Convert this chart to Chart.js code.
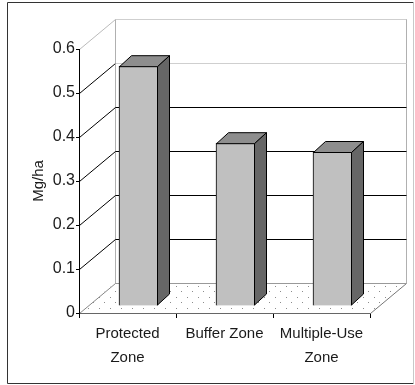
<!DOCTYPE html>
<html>
<head>
<meta charset="utf-8">
<title>Mg/ha by zone</title>
<script src="https://cdn.jsdelivr.net/npm/chart.js@4/dist/chart.umd.min.js"></script>
<style>
  html, body { margin: 0; padding: 0; background: #fff; }
  canvas { display: block; }
</style>
</head>
<body>
<canvas id="zones" width="415" height="385"></canvas>
<script>
const zones = [['Protected', 'Zone'], 'Buffer Zone', ['Multiple-Use', 'Zone']];
const mgPerHa = [0.545, 0.37, 0.35];
const yTicks = [0, 0.1, 0.2, 0.3, 0.4, 0.5, 0.6];

// oblique offsets for the fake 3d box
const WALL = { dx: 36, dy: -30 };
const BAR_FRONT = { dx: 11, dy: -7 };
const BAR_DEPTH = { dx: 12, dy: -11 };

function dotPattern(ctx) {
  const t = document.createElement('canvas');
  t.width = t.height = 11;
  const g = t.getContext('2d');
  g.fillStyle = '#8c8c8c';
  g.fillRect(0, 0, 1, 1);
  g.fillRect(5, 5, 1, 1);
  return ctx.createPattern(t, 'repeat');
}

function seg(c, x1, y1, x2, y2, color) {
  c.strokeStyle = color;
  c.beginPath();
  c.moveTo(x1, y1);
  c.lineTo(x2, y2);
  c.stroke();
}

const box3d = {
  id: 'box3d',
  beforeDraw(chart) {
    const { ctx: c, chartArea: a, scales: { y } } = chart;
    const L = a.left, R = a.right, B = a.bottom, T = a.top;
    c.save();
    c.fillStyle = '#fff';
    c.fillRect(0, 0, chart.width, chart.height);
    c.lineWidth = 1;

    // outer frame
    c.strokeStyle = '#333';
    c.beginPath();
    c.moveTo(413.5, 2.5); c.lineTo(7.5, 2.5); c.lineTo(7.5, 383.5); c.lineTo(413.5, 383.5);
    c.stroke();
    seg(c, 413.5, 2.5, 413.5, 383.5, '#c8c8c8');

    // floor
    c.beginPath();
    c.moveTo(L, B); c.lineTo(R, B);
    c.lineTo(R + WALL.dx, B + WALL.dy); c.lineTo(L + WALL.dx, B + WALL.dy);
    c.closePath();
    c.fillStyle = dotPattern(c);
    c.fill();
    seg(c, R + 0.5, B + 0.5, R + WALL.dx + 0.5, B + WALL.dy + 0.5, '#777');

    // back wall
    const bl = L + WALL.dx + 0.5, br = R + WALL.dx + 0.5;
    c.strokeStyle = '#b0b0b0';
    c.strokeRect(bl, T + WALL.dy + 0.5, br - bl, B - T);

    // gridlines on side and back walls
    yTicks.forEach((v, i) => {
      const py = Math.round(y.getPixelForValue(v)) + 0.5;
      const top = i === yTicks.length - 1;
      const side = i === 0 ? '#888' : top ? '#bbb' : '#000';
      const back = i === 0 ? '#999' : v >= 0.5 ? '#cfcfcf' : '#000';
      seg(c, L + 0.5, py, bl, py + WALL.dy, side);
      seg(c, bl, py + WALL.dy, br, py + WALL.dy, back);
    });
    c.restore();
  },
  beforeDatasetsDraw(chart) {
    chart.ctx.save();
    chart.ctx.translate(BAR_FRONT.dx, BAR_FRONT.dy);
  },
  afterDatasetsDraw(chart) {
    const c = chart.ctx;
    c.restore();
    c.save();
    c.lineWidth = 1;
    c.strokeStyle = '#000';
    chart.getDatasetMeta(0).data.forEach(bar => {
      const { x, y, base, width } = bar.getProps(['x', 'y', 'base', 'width'], true);
      const l = x - width / 2 + BAR_FRONT.dx + 0.5;
      const r = x + width / 2 + BAR_FRONT.dx - 0.5;
      const t = y + BAR_FRONT.dy + 0.5;
      const b = base + BAR_FRONT.dy - 0.5;
      const { dx, dy } = BAR_DEPTH;

      c.fillStyle = '#8e8e8e';
      c.beginPath();
      c.moveTo(l, t); c.lineTo(r, t); c.lineTo(r + dx, t + dy); c.lineTo(l + dx, t + dy);
      c.closePath();
      c.fill(); c.stroke();

      c.fillStyle = '#666';
      c.beginPath();
      c.moveTo(r, t); c.lineTo(r + dx, t + dy); c.lineTo(r + dx, b + dy); c.lineTo(r, b);
      c.closePath();
      c.fill(); c.stroke();
    });
    c.restore();
  }
};

const tickFont = { family: '"Liberation Sans", Arial, sans-serif', size: 15, lineHeight: 1.6 };

new Chart(document.getElementById('zones'), {
  type: 'bar',
  data: {
    labels: zones,
    datasets: [{
      data: mgPerHa,
      backgroundColor: '#c0c0c0',
      borderColor: '#000',
      borderWidth: 1,
      barThickness: 39
    }]
  },
  options: {
    responsive: false,
    animation: false,
    devicePixelRatio: 1,
    layout: { padding: { left: 0, right: 45, top: 49, bottom: 0 } },
    plugins: { legend: { display: false }, tooltip: { enabled: false } },
    scales: {
      x: {
        afterFit: s => { s.height = 72; },
        grid: { drawOnChartArea: false, tickLength: 5, color: '#000', offset: true },
        border: { color: '#666' },
        ticks: { color: '#1a1a1a', font: tickFont, padding: 4, maxRotation: 0, autoSkip: false }
      },
      y: {
        min: 0,
        max: 0.6,
        afterFit: s => { s.width = 79; },
        afterBuildTicks: s => { s.ticks = yTicks.map(v => ({ value: v })); },
        grid: { drawOnChartArea: false, tickLength: 3, color: '#000' },
        border: { color: '#000' },
        ticks: { color: '#1a1a1a', font: { family: tickFont.family, size: 16 }, padding: 1, callback: v => String(v) },
        title: {
          display: true,
          text: 'Mg/ha',
          color: '#1a1a1a',
          font: { family: tickFont.family, size: 15 },
          padding: { top: 30, bottom: 0 }
        }
      }
    }
  },
  plugins: [box3d]
});
</script>
</body>
</html>
